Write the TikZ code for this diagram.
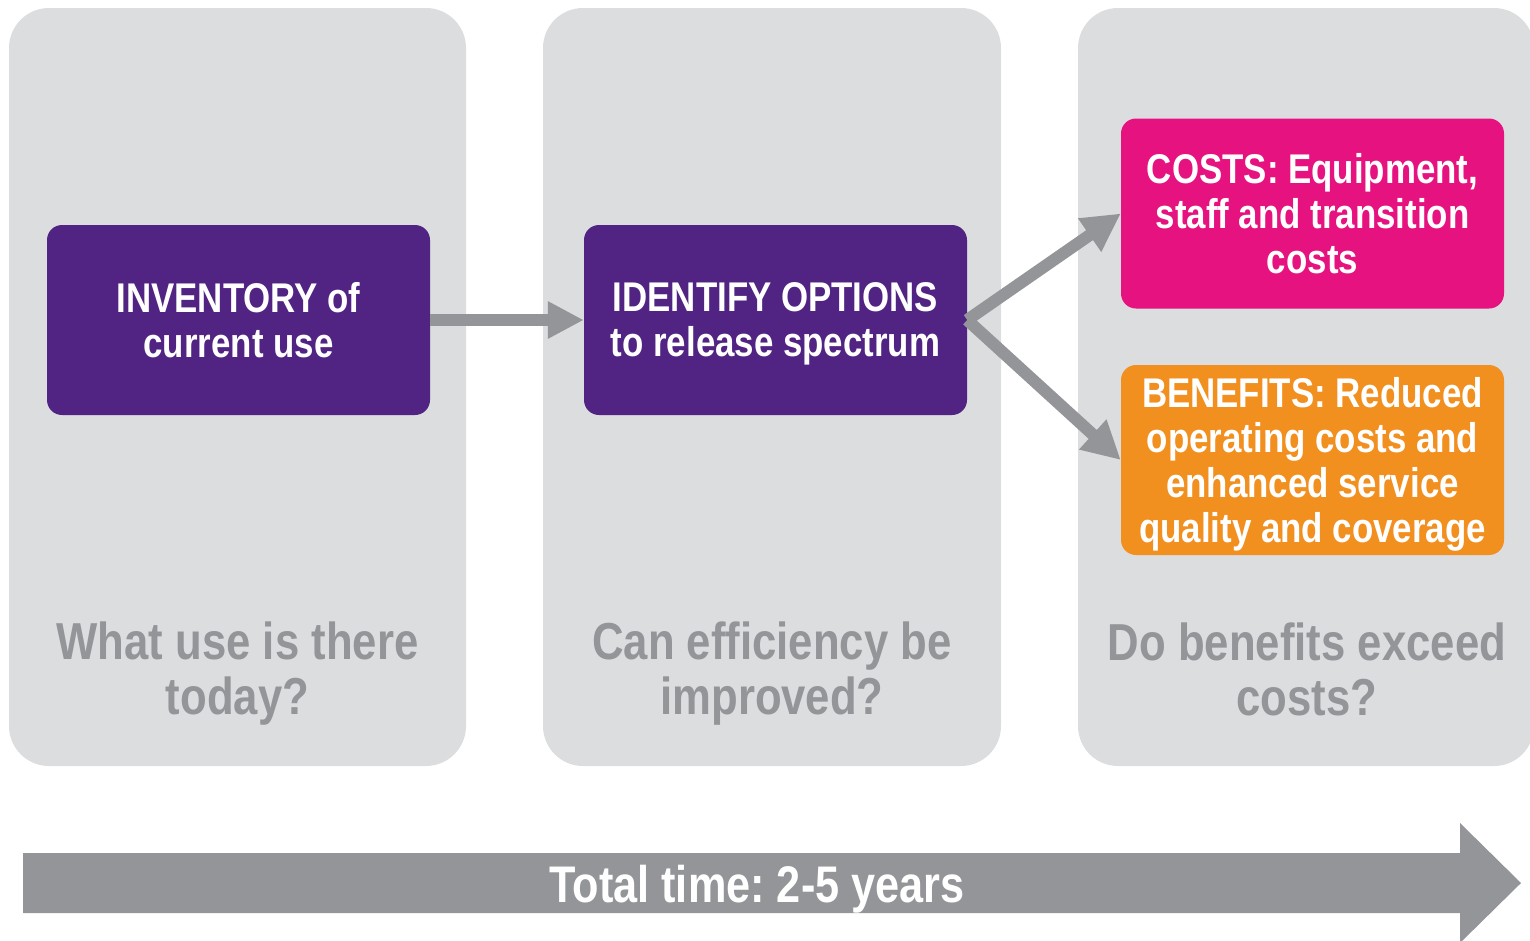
\documentclass[tikz,border=0pt]{standalone}
\usepackage{fontspec}
\setmainfont[FakeStretch=0.84]{Liberation Sans}
\frenchspacing
\usetikzlibrary{arrows.meta}
\definecolor{panelgray}{HTML}{DCDDDF}
\definecolor{arrowgray}{HTML}{939598}
\definecolor{boxpurple}{HTML}{512483}
\definecolor{boxpink}{HTML}{E6127F}
\definecolor{boxorange}{HTML}{F18F1F}
\tikzset{
  panel/.style={fill=panelgray, rounded corners=40pt},
  bigbox/.style={rounded corners=15pt, minimum width=383pt, minimum height=190pt, inner sep=0pt, text=white, align=center, font=\fontsize{41.5}{45}\selectfont\bfseries},
  question/.style={text=arrowgray, align=center, font=\fontsize{52}{55}\selectfont\bfseries},
  conn/.style={draw=arrowgray, line width=12pt, -{Triangle[length=38pt,width=38pt]}},
}
\begin{document}
\begin{tikzpicture}[x=1pt,y=-1pt]
\useasboundingbox (0,0) rectangle (1530,940);
\begin{scope}
\clip (0,0) rectangle (1530,940);
% panels
\fill[panel] (9,8) rectangle (466,766);
\fill[panel] (543,8) rectangle (1001,766);
\fill[panel] (1078,8) rectangle (1534,766);
% big time arrow
\fill[arrowgray] (23,853) -- (1460,853) -- (1460,823) -- (1521,883) -- (1460,943) -- (1460,913) -- (23,913) -- cycle;
\end{scope}
% boxes
\node[bigbox, fill=boxpurple] (inv) at (238.5,320) {INVENTORY of\\current use};
\node[bigbox, fill=boxpurple, text depth=0pt] (opt) at (775.5,320) {IDENTIFY OPTIONS\\to release spectrum};
\node[bigbox, fill=boxpink] (costs) at (1312.5,213.5) {COSTS: Equipment,\\staff and transition\\costs};
\node[bigbox, fill=boxorange, text depth=0pt] (ben) at (1312.5,460) {BENEFITS: Reduced\\operating costs and\\enhanced service\\quality and coverage};
% connectors
\draw[conn, -{Triangle[length=36pt,width=35pt]}] (inv.east) -- (opt.west);
\draw[conn] (opt.east) -- (costs.west);
\draw[conn] (opt.east) -- (ben.west);
% questions
\node[question] (q1) at (237.5,674) {What use is there\\today?};
\node[question] (q2) at (772,674) {Can efficiency be\\improved?};
\node[question] (q3) at (1307,669) {Do benefits exceed\\costs?};
% time label
\node[text=white, font=\fontsize{51.5}{55}\selectfont\bfseries] (time) at (757,889) {Total time: 2-5 years};
\end{tikzpicture}
\end{document}
